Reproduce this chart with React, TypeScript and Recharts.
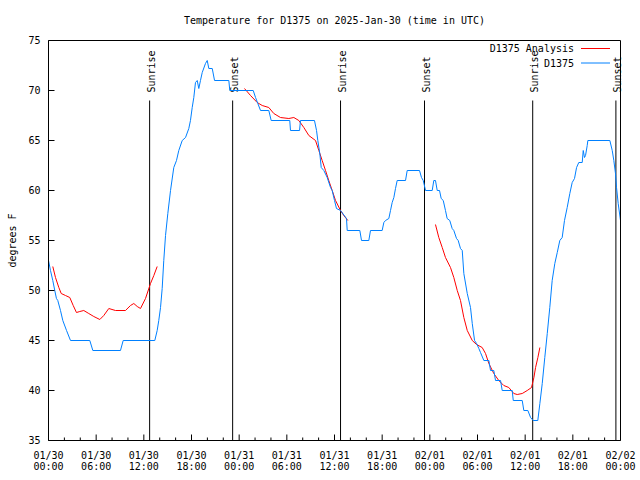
import React from 'react'
import { LineChart, Line, XAxis, YAxis, ReferenceLine } from 'recharts'

// hours since 2025-01-30 00:00 UTC
const obsHours = [
	0, 0.25, 0.54, 0.79, 1.0, 1.17, 1.51, 1.8, 2.27, 2.77,
	5.2, 5.58, 9.06, 9.4, 13.38, 13.68, 13.88, 14.1, 14.31, 14.51,
	14.73, 15.02, 15.36, 15.77, 16.11, 16.4, 16.83, 17.25, 17.66, 17.87,
	18.09, 18.29, 18.5, 18.72, 18.92, 19.13, 19.35, 19.76, 19.98, 20.18,
	20.61, 20.9, 22.7, 22.82, 25.77, 26.06, 26.35, 26.69, 27.73, 28.03,
	30.37, 30.46, 31.6, 31.72, 33.48, 33.74, 33.9, 34.15, 34.33, 34.66,
	35.08, 35.5, 35.71, 36.0, 36.25, 36.76, 37.51, 37.6, 39.19, 39.4,
	40.32, 40.53, 42.0, 42.21, 42.42, 42.84, 43.05, 43.26, 43.47, 43.68,
	43.89, 44.94, 45.15, 46.7, 46.95, 47.17, 47.46, 48.3, 48.5, 48.71,
	48.93, 49.22, 49.43, 49.69, 49.97, 50.18, 50.51, 50.81, 51.02, 51.36,
	51.57, 51.86, 52.08, 52.28, 52.71, 53.12, 53.34, 53.63, 53.88, 54.17,
	54.38, 54.8, 55.43, 55.64, 56.05, 56.27, 56.9, 57.11, 58.37, 58.5,
	59.63, 59.83, 60.34, 60.68, 61.01, 61.59, 61.85, 62.15, 62.47, 62.78,
	63.1, 63.4, 63.73, 64.04, 64.36, 64.66, 64.95, 65.29, 65.62, 65.92,
	66.21, 66.47, 66.75, 67.18, 67.31, 67.47, 67.6, 67.81, 67.89, 70.66,
	70.96, 71.16, 71.37, 71.5, 71.71, 72,
]
const obsTemps = [
	53, 52, 51, 50, 49.2, 49, 48, 47, 46, 45,
	45, 44, 44, 45, 45, 46, 47, 48.3, 50.2, 53,
	55.5, 57.7, 60, 62.3, 63, 64, 65, 65.3, 66.2, 67,
	68.3, 69.3, 70.8, 71, 70.2, 71, 71.8, 72.7, 73, 72.2,
	72.2, 71, 71, 70, 70, 69.3, 68.7, 68, 68, 67,
	67, 66, 66, 67, 67, 66, 65, 63.7, 62.3, 62,
	61.3, 60.3, 60, 59, 58.2, 58, 57.2, 56, 56, 55,
	55, 56, 56, 56.8, 57, 57.2, 58, 58.8, 59.3, 60.2,
	61, 61, 62, 62, 61.3, 61, 60, 60, 61, 61,
	60, 60, 59.2, 59, 58, 57.2, 57, 56.2, 56, 55.2,
	55, 54.2, 54, 51.7, 49.7, 48.3, 46.7, 45, 44.7, 44.2,
	43.8, 43, 43, 42, 42, 41, 41, 40, 40, 39,
	39, 38, 38, 37.3, 37, 37, 38.7, 40.7, 43.3, 45.7,
	48.3, 51, 52.7, 53.8, 55, 55.3, 57, 58.3, 59.7, 60.8,
	61.2, 62.3, 62.8, 62.8, 64, 63.3, 63.5, 64.5, 65, 65,
	64, 63, 61.7, 60.3, 58.7, 57,
]

// analysis runs, three separate pieces
const anaHours1 = [0.54, 0.88, 1.3, 1.6, 2.14, 2.68, 3.11, 3.52, 3.94, 4.44, 5.07, 5.7, 6.46, 6.96, 7.59, 8.43, 9.69, 10.32, 10.74, 11.17, 11.58, 12.21, 12.84, 13.26, 13.68]
const anaTemps1 = [52.4, 51.3, 50.3, 49.7, 49.5, 49.3, 48.5, 47.8, 47.9, 48, 47.7, 47.4, 47.1, 47.5, 48.2, 48, 48, 48.5, 48.7, 48.4, 48.2, 49.2, 50.7, 51.5, 52.4]
const anaHours2 = [24.67, 25.43, 26.27, 26.9, 27.73, 28.36, 29.2, 30.25, 30.88, 31.51, 32.14, 32.77, 33.61, 34.03, 34.45, 34.87, 35.28, 35.71, 36.13, 36.76, 37.17, 37.68]
const anaTemps2 = [70.2, 69.5, 68.8, 68.5, 68.3, 67.7, 67.3, 67.2, 67.3, 67, 66.3, 65.5, 65, 64, 63, 62, 61, 60, 59, 58, 57.5, 57]
const anaHours3 = [48.71, 49.13, 49.56, 49.97, 50.6, 51.02, 51.45, 51.86, 52.28, 52.71, 53.34, 53.88, 54.59, 55.01, 55.43, 56.05, 56.68, 57.31, 57.94, 58.57, 59.0, 59.63, 60.26, 60.8, 61.1, 61.31, 61.6, 61.85]
const anaTemps3 = [56.6, 55.3, 54.3, 53.3, 52.3, 51.3, 50, 49, 47.3, 46, 45, 44.6, 44.3, 43.7, 42.7, 41.7, 41, 40.5, 40.3, 39.7, 39.6, 39.7, 40, 40.3, 41.3, 42.3, 43.3, 44.3]

const sunHours = [12.73, 23.18, 36.76, 47.33, 60.95, 71.42]
const sunNames = ['Sunrise', 'Sunset', 'Sunrise', 'Sunset', 'Sunrise', 'Sunset']

const yTicks = [35, 40, 45, 50, 55, 60, 65, 70, 75]
const xTicks = Array.from({ length: 37 }, (_, i) => i * 2)
const dayLabels = ['01/30', '01/31', '02/01', '02/02']
const seriesNames = ['D1375 Analysis', 'D1375']
const seriesColors = ['#ff0000', '#0080ff']
const title = 'Temperature for D1375 on 2025-Jan-30 (time in UTC)'

const FONT = '"DejaVu Sans Mono", monospace'
const rows = (hs: number[], ts: number[]) => hs.map((h, i) => ({ h, t: ts[i] }))

const BottomTick = (p: any) => {
	const h = p.payload.value
	const major = h % 6 === 0
	const hh = String(h % 24).padStart(2, '0') + ':00'
	return (
		<g>
			<line x1={p.x} x2={p.x} y1={p.y} y2={p.y - (major ? 6 : 3)} stroke="#000" />
			{major && (
				<text x={p.x} y={p.y + 18} textAnchor="middle" fontFamily={FONT} fontSize={10} fill="#000">
					{dayLabels[Math.floor(h / 24)]}
				</text>
			)}
			{major && (
				<text x={p.x} y={p.y + 29} textAnchor="middle" fontFamily={FONT} fontSize={10} fill="#000">
					{hh}
				</text>
			)}
		</g>
	)
}

const TopTick = (p: any) => {
	const major = p.payload.value % 6 === 0
	return <line x1={p.x} x2={p.x} y1={p.y} y2={p.y + (major ? 6 : 3)} stroke="#000" />
}

const LeftTick = (p: any) => (
	<g>
		<line x1={p.x} x2={p.x + 6} y1={p.y} y2={p.y} stroke="#000" />
		<text x={p.x - 8} y={p.y} dy="0.35em" textAnchor="end" fontFamily={FONT} fontSize={10} fill="#000">
			{p.payload.value}
		</text>
	</g>
)

const RightTick = (p: any) => <line x1={p.x} x2={p.x - 6} y1={p.y} y2={p.y} stroke="#000" />

const SunLabel = ({ viewBox, text }: any) => (
	<text
		transform={`translate(${viewBox.x + 5},${viewBox.y - 8}) rotate(-90)`}
		fontFamily={FONT}
		fontSize={10}
		fill="#000"
	>
		{text}
	</text>
)

const TitleLabel = ({ viewBox }: any) => (
	<text x={viewBox.x + viewBox.width / 2} y={viewBox.y - 16} textAnchor="middle" fontFamily={FONT} fontSize={10} fill="#000">
		{title}
	</text>
)

const YLabel = ({ viewBox }: any) => (
	<text
		transform={`translate(${viewBox.x - 32},${viewBox.y + viewBox.height / 2}) rotate(-90)`}
		textAnchor="middle"
		fontFamily={FONT}
		fontSize={10}
		fill="#000"
	>
		degrees F
	</text>
)

export default function App() {
	return (
		<div style={{ position: 'absolute', left: 0, top: 0, width: 640, height: 480, background: '#fff' }}>
			<LineChart width={640} height={480} margin={{ top: 39.5, right: 18.5, bottom: 38.5, left: 47.5 }}>
				<XAxis
					type="number"
					dataKey="h"
					domain={[0, 72]}
					ticks={xTicks}
					interval={0}
					height={1}
					tickSize={0}
					tickMargin={0}
					tick={BottomTick}
					axisLine={{ stroke: '#000' }}
					tickLine={false}
				/>
				<XAxis
					xAxisId="t"
					orientation="top"
					type="number"
					dataKey="h"
					domain={[0, 72]}
					ticks={xTicks}
					interval={0}
					height={1}
					tickSize={0}
					tickMargin={0}
					tick={TopTick}
					axisLine={{ stroke: '#000' }}
					tickLine={false}
					label={<TitleLabel />}
				/>
				<YAxis
					type="number"
					domain={[35, 75]}
					ticks={yTicks}
					interval={0}
					width={1}
					tickSize={0}
					tickMargin={0}
					tick={LeftTick}
					axisLine={{ stroke: '#000' }}
					tickLine={false}
					label={<YLabel />}
				/>
				<YAxis
					yAxisId="r"
					orientation="right"
					type="number"
					domain={[35, 75]}
					ticks={yTicks}
					interval={0}
					width={1}
					tickSize={0}
					tickMargin={0}
					tick={RightTick}
					axisLine={{ stroke: '#000' }}
					tickLine={false}
				/>
				{sunHours.map((h, i) => (
					<ReferenceLine
						key={i}
						segment={[{ x: h, y: 35 }, { x: h, y: 69 }]}
						stroke="#000"
						strokeWidth={1}
						label={<SunLabel text={sunNames[i]} />}
					/>
				))}
				{[rows(anaHours1, anaTemps1), rows(anaHours2, anaTemps2), rows(anaHours3, anaTemps3)].map((d, i) => (
					<Line
						key={'a' + i}
						data={d}
						dataKey="t"
						type="linear"
						stroke={seriesColors[0]}
						strokeWidth={1}
						dot={false}
						activeDot={false}
						isAnimationActive={false}
					/>
				))}
				<Line
					data={rows(obsHours, obsTemps)}
					dataKey="t"
					type="linear"
					stroke={seriesColors[1]}
					strokeWidth={1}
					dot={false}
					activeDot={false}
					isAnimationActive={false}
				/>
			</LineChart>
			<svg width={640} height={480} style={{ position: 'absolute', left: 0, top: 0, pointerEvents: 'none' }}>
				{seriesNames.map((n, i) => (
					<g key={n}>
						<text x={574} y={48.5 + i * 14.5} dy="0.35em" textAnchor="end" fontFamily={FONT} fontSize={10} fill="#000">
							{n}
						</text>
						<line x1={581} x2={610} y1={48.5 + i * 14.5} y2={48.5 + i * 14.5} stroke={seriesColors[i]} />
					</g>
				))}
			</svg>
		</div>
	)
}
